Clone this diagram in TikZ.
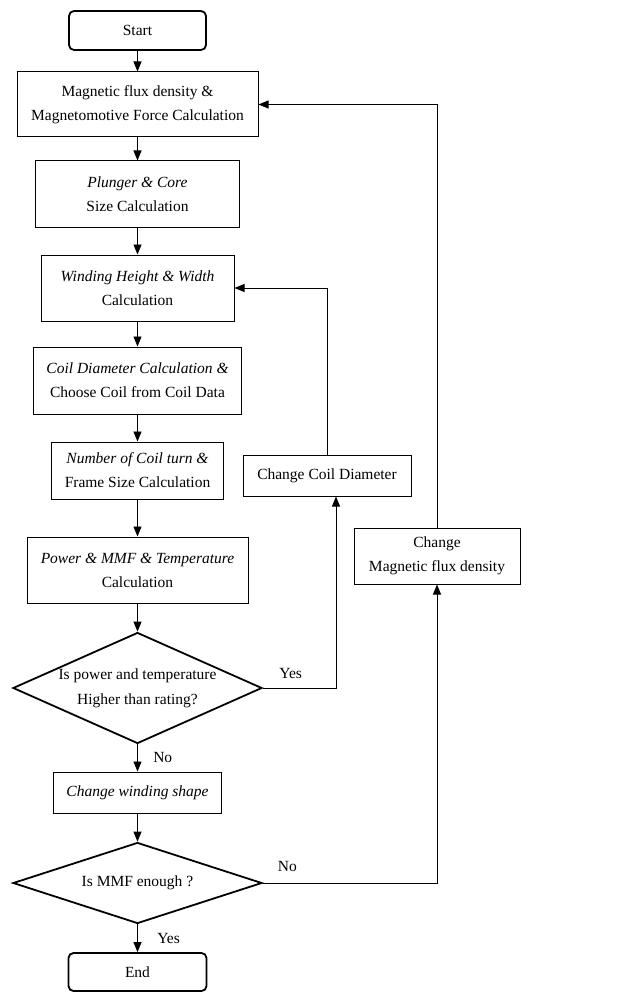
\documentclass[tikz,border=0pt]{standalone}
\usepackage{fontspec}
\setmainfont{Liberation Serif}
\usetikzlibrary{arrows.meta,shapes.geometric}

\begin{document}
\begin{tikzpicture}[x=1pt,y=-1pt,
  arr/.style={-{Triangle[length=10pt,width=8pt]},line width=0.9pt},
  box/.style={draw,line width=1pt,align=center,inner sep=0pt,font=\fontsize{15.5}{24}\selectfont},
  term/.style={box,rounded corners=5pt,line width=1.8pt},
  dec/.style={draw,diamond,line width=1.8pt,align=center,inner sep=0pt,font=\fontsize{15.5}{25}\selectfont}]
\useasboundingbox (0,0) rectangle (617,992);
\node[term,minimum width=137pt,minimum height=39pt] (start) at (137.5,30.5) {Start};
\node[box,minimum width=241pt,minimum height=65pt] (mag) at (137.5,104.5) {Magnetic flux density \&\\Magnetomotive Force Calculation};
\node[box,minimum width=204pt,minimum height=67pt] (plung) at (137.5,194.5) {\textit{Plunger \& Core}\\Size Calculation};
\node[box,minimum width=193pt,minimum height=66pt] (wind) at (137.5,288) {\textit{Winding Height \& Width}\\Calculation};
\node[box,minimum width=208pt,minimum height=67pt] (coil) at (137.5,380.5) {\textit{Coil Diameter Calculation \&}\\Choose Coil from Coil Data};
\node[box,minimum width=172pt,minimum height=57pt] (num) at (137.5,470.5) {\textit{Number of Coil turn \&}\\Frame Size Calculation};
\node[box,minimum width=221pt,minimum height=66pt] (power) at (137.5,570) {\textit{Power \& MMF \& Temperature}\\Calculation};
\node[dec,aspect=2.24,minimum width=249pt,minimum height=111pt] (d1) at (137.5,688) {Is power and temperature\\Higher than rating?};
\node[box,minimum width=168pt,minimum height=41pt] (wshape) at (137.5,792.5) {\textit{Change winding shape}};
\node[dec,aspect=3.07,minimum width=249pt,minimum height=81pt] (d2) at (137.5,883) {Is MMF enough ?};
\node[term,minimum width=138pt,minimum height=38pt] (end) at (137.5,972) {End};
\node[box,minimum width=168pt,minimum height=41pt] (ccoil) at (327,475.5) {Change Coil Diameter};
\node[box,minimum width=166pt,minimum height=56pt] (cmag) at (437,556) {Change\\Magnetic flux density};
% main flow
\draw[arr] (start) -- (mag);
\draw[arr] (mag) -- (plung);
\draw[arr] (plung) -- (wind);
\draw[arr] (wind) -- (coil);
\draw[arr] (coil) -- (num);
\draw[arr] (num) -- (power);
\draw[arr] (power) -- (d1);
\draw[arr] (d1) -- node[right=12pt,font=\fontsize{15.5}{18}\selectfont] {No} (wshape);
\draw[arr] (wshape) -- (d2);
\draw[arr] (d2) -- node[right=16pt,font=\fontsize{15.5}{18}\selectfont] {Yes} (end);
% loops
\draw[arr] (d1.east) -| node[pos=0.19,above=6pt,font=\fontsize{15.5}{18}\selectfont] {Yes} ([xshift=9pt]ccoil.south);
\draw[arr] (ccoil.north) |- (wind.east);
\draw[arr] (d2.east) -| node[pos=0.07,above=8pt,font=\fontsize{15.5}{18}\selectfont] {No} (cmag.south);
\draw[arr] (cmag.north) |- (mag.east);
\end{tikzpicture}
\end{document}
